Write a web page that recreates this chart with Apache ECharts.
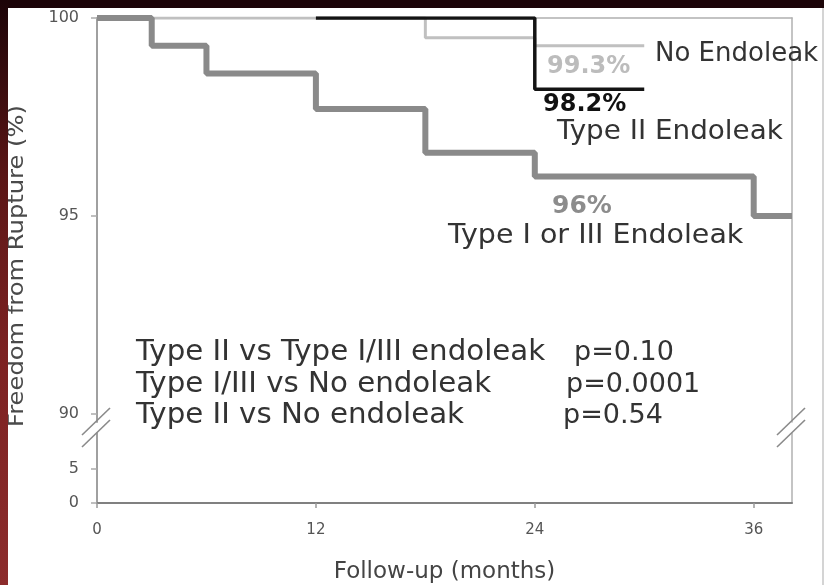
<!DOCTYPE html>
<html><head><meta charset="utf-8">
<script src="https://cdn.jsdelivr.net/npm/echarts@6/dist/echarts.min.js"></script>
<style>html,body{margin:0;padding:0;background:#fff}#c{width:824px;height:585px}</style>
</head><body><div id="c"></div>
<script>
// ---- data ----
const monthTicks = [0, 12, 24, 36];
const upperTicks = [90, 95, 100];
const lowerTicks = [0, 5];
const typeIIIMonths = [0, 3, 6, 12, 18, 24, 36, 38.1];
const typeIIIValues = [100, 99.3, 98.6, 97.7, 96.6, 96, 95, 95];
const noLeakMonths = [0, 18, 24, 30];
const noLeakValues = [100, 99.5, 99.3, 99.3];
const typeIIMonths = [12, 24, 30];
const typeIIValues = [100, 98.2, 98.2];
const statLabels = ['Type II vs Type I/III endoleak', 'Type I/III vs No endoleak', 'Type II vs No endoleak'];
const pValues = ['p=0.10', 'p=0.0001', 'p=0.54'];

const zip = (xs, ys) => xs.map((x, i) => [x, ys[i]]);
const FONT = '"DejaVu Sans", Verdana, sans-serif';
const X_MAX = 38.1;

const chart = echarts.init(document.getElementById('c'), null, {renderer: 'canvas'});

function txt(text, x, y, size, color, weight, sx) {
  return {type: 'text', x: x, y: y, z: 20, scaleX: sx || 1,
    style: {text: text, fill: color, fontSize: size, fontFamily: FONT, fontWeight: weight || 'normal',
      align: 'left', verticalAlign: 'middle'}};
}
function seg(x1, y1, x2, y2) {
  return {type: 'line', z: 20, shape: {x1, y1, x2, y2}, style: {stroke: '#8a8a8a', lineWidth: 1.6}};
}

const graphics = [
  {type: 'rect', z: 30, shape: {x: 0, y: 0, width: 824, height: 8}, style: {fill: '#1c0408'}},
  {type: 'rect', z: 30, shape: {x: 0, y: 0, width: 8, height: 585},
    style: {fill: new echarts.graphic.LinearGradient(0, 0, 0, 1, [
      {offset: 0, color: '#1c0408'}, {offset: 0.3, color: '#5a1616'},
      {offset: 0.6, color: '#7c2222'}, {offset: 1, color: '#8c2c2c'}])}},
  {type: 'rect', z: 30, shape: {x: 822, y: 8, width: 2, height: 577}, style: {fill: '#d4d4d4'}},
  seg(82, 435, 110, 408), seg(82, 447, 110, 420),
  seg(777, 435, 805, 408), seg(777, 447, 805, 420),
  {type: 'text', x: 17, y: 266, rotation: Math.PI / 2, scaleX: 1.1, z: 20,
    style: {text: 'Freedom from Rupture (%)', fill: '#4a4a4a', fontSize: 22, fontFamily: FONT,
      align: 'center', verticalAlign: 'middle'}},
  txt('No Endoleak', 655, 54, 26, '#333'),
  txt('99.3%', 547, 67, 24, '#bcbcbc', 'bold'),
  txt('98.2%', 543, 105, 24, '#111', 'bold'),
  txt('Type II Endoleak', 557, 132, 27, '#333', 'normal', 1.03),
  txt('96%', 552, 206, 25, '#8c8c8c', 'bold'),
  txt('Type I or III Endoleak', 448, 236, 27, '#333', 'normal', 1.055)
];
const statY = [353, 384.5, 416];
const pX = [574, 566, 563];
statLabels.forEach((s, i) => {
  graphics.push(txt(s, 136, statY[i], 28, '#333', 'normal', 1.045));
  graphics.push(txt(pValues[i], pX[i], statY[i], 27, '#333'));
});

const lineAxis = (color, w) => ({show: true, onZero: false, lineStyle: {color: color, width: w}});

chart.setOption({
  backgroundColor: '#fff',
  animation: false,
  grid: [
    {left: 97, top: 18, width: 695, height: 404},
    {left: 97, top: 433, width: 695, height: 70}
  ],
  xAxis: [
    {gridIndex: 0, type: 'value', position: 'top', min: 0, max: X_MAX,
      axisLine: lineAxis('#b0b0b0', 1.5), axisTick: {show: false}, axisLabel: {show: false}, splitLine: {show: false}},
    {gridIndex: 1, type: 'value', position: 'bottom', min: 0, max: X_MAX,
      axisLine: lineAxis('#808080', 2),
      axisTick: {show: true, length: 5, customValues: monthTicks, lineStyle: {color: '#999', width: 1.5}},
      axisLabel: {customValues: monthTicks, fontSize: 15, color: '#555', fontFamily: FONT, margin: 20},
      splitLine: {show: false},
      name: 'Follow-up (months)', nameLocation: 'middle', nameGap: 58,
      nameTextStyle: {fontSize: 23, color: '#444', fontFamily: FONT}}
  ],
  yAxis: [
    {gridIndex: 0, type: 'value', position: 'left', min: 89.8, max: 100,
      axisLine: lineAxis('#a0a0a0', 2),
      axisTick: {show: true, length: 6, customValues: upperTicks, lineStyle: {color: '#aaa', width: 1.5}},
      axisLabel: {customValues: upperTicks, fontSize: 16, color: '#555', fontFamily: FONT, margin: 18},
      splitLine: {show: false}},
    {gridIndex: 0, type: 'value', position: 'right', min: 89.8, max: 100,
      axisLine: lineAxis('#b0b0b0', 1.5), axisTick: {show: false}, axisLabel: {show: false}, splitLine: {show: false}},
    {gridIndex: 1, type: 'value', position: 'left', min: 0, max: 10.3,
      axisLine: lineAxis('#a0a0a0', 2),
      axisTick: {show: true, length: 6, customValues: lowerTicks, lineStyle: {color: '#aaa', width: 1.5}},
      axisLabel: {customValues: lowerTicks, fontSize: 16, color: '#555', fontFamily: FONT, margin: 18},
      splitLine: {show: false}},
    {gridIndex: 1, type: 'value', position: 'right', min: 0, max: 10.3,
      axisLine: lineAxis('#b0b0b0', 1.5), axisTick: {show: false}, axisLabel: {show: false}, splitLine: {show: false}}
  ],
  series: [
    {name: 'No Endoleak', type: 'line', step: 'end', xAxisIndex: 0, yAxisIndex: 0, symbol: 'none',
      data: zip(noLeakMonths, noLeakValues), lineStyle: {color: '#c0c0c0', width: 3}, z: 2},
    {name: 'Type II Endoleak', type: 'line', step: 'end', xAxisIndex: 0, yAxisIndex: 0, symbol: 'none',
      data: zip(typeIIMonths, typeIIValues), lineStyle: {color: '#141414', width: 3.5}, z: 3},
    {name: 'Type I or III Endoleak', type: 'line', step: 'end', xAxisIndex: 0, yAxisIndex: 0, symbol: 'none',
      data: zip(typeIIIMonths, typeIIIValues), lineStyle: {color: '#8a8a8a', width: 6}, z: 4}
  ],
  graphic: graphics
});
</script></body></html>
